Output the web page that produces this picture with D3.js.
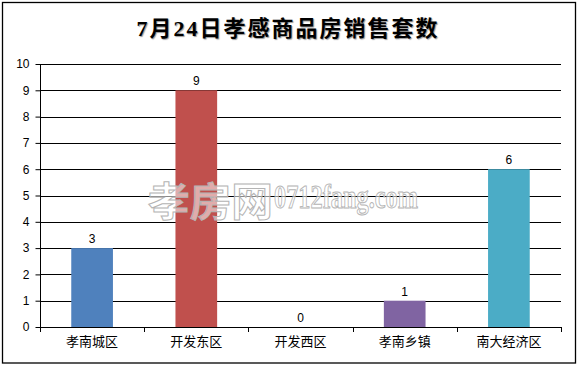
<!DOCTYPE html>
<html lang="zh">
<head>
    <meta charset="UTF-8">
    <title>7月24日孝感商品房销售套数</title>
    <script src="https://d3js.org/d3.v7.min.js"></script>
    <style>
        body { margin: 0; background: #fff; }
    </style>
</head>
<body>
    <svg width="578" height="365"></svg>

    <script>
        // chart data
        const categories = ["孝南城区", "开发东区", "开发西区", "孝南乡镇", "南大经济区"];
        const sales = [3, 9, 0, 1, 6];
        const barColors = ["#4F81BD", "#C0504D", "#9BBB59", "#8064A2", "#4BACC6"];
        const yTicks = [0, 1, 2, 3, 4, 5, 6, 7, 8, 9, 10];
        const chartTitle = "7月24日孝感商品房销售套数";

        const width = 578;
        const height = 365;
        const margin = {top: 64, right: 17, bottom: 38, left: 40};

        const cjk = "'Noto Sans CJK SC', sans-serif";

        const svg = d3.select("svg");

        // outer frame
        svg.append("rect")
            .attr("x", 2.5)
            .attr("y", 2.5)
            .attr("width", 573)
            .attr("height", 360.5)
            .attr("fill", "#fff")
            .attr("stroke", "#000")
            .attr("stroke-width", 1.3);

        const x = d3.scaleBand()
            .domain(categories)
            .range([margin.left, width - margin.right]);

        const y = d3.scaleLinear()
            .domain([0, 10])
            .range([height - margin.bottom, margin.top]);

        // horizontal grid lines
        svg.append("g")
            .selectAll("line")
            .data(yTicks)
            .join("line")
            .attr("x1", margin.left)
            .attr("x2", width - margin.right)
            .attr("y1", d => Math.round(y(d)) + 0.5)
            .attr("y2", d => Math.round(y(d)) + 0.5)
            .attr("stroke", "#000")
            .attr("stroke-width", 1);

        // bars
        const barW = x.bandwidth() * 0.4;
        svg.append("g")
            .selectAll("rect")
            .data(categories)
            .join("rect")
            .attr("x", (d, i) => x(d) + (x.bandwidth() - barW) / 2)
            .attr("y", (d, i) => y(sales[i]))
            .attr("width", barW)
            .attr("height", (d, i) => y(0) - y(sales[i]))
            .attr("fill", (d, i) => barColors[i]);

        // value labels
        svg.append("g")
            .selectAll("text")
            .data(categories)
            .join("text")
            .attr("x", d => x(d) + x.bandwidth() / 2)
            .attr("y", (d, i) => y(sales[i]) - 5)
            .attr("text-anchor", "middle")
            .style("font-family", "'Liberation Sans', Arial, sans-serif")
            .style("font-size", "12px")
            .text((d, i) => sales[i]);

        // y axis
        const yAxis = svg.append("g")
            .attr("transform", `translate(${margin.left + 0.5},0)`)
            .call(d3.axisLeft(y).tickValues(yTicks).tickSize(5).tickPadding(6).tickFormat(d3.format("d")));
        yAxis.selectAll("text")
            .style("font-family", "'Liberation Sans', Arial, sans-serif")
            .style("font-size", "12px")
            .attr("fill", "#000");
        yAxis.select(".domain").attr("d", `M0,${y(10)}V${y(0)}`);

        // x axis
        const xAxis = svg.append("g")
            .attr("transform", `translate(0,${Math.round(y(0)) + 0.5})`)
            .call(d3.axisBottom(x).tickSize(0).tickPadding(9));
        xAxis.select(".domain").attr("d", `M${margin.left},0H${width - margin.right}`);
        xAxis.selectAll("text")
            .style("font-family", cjk)
            .style("font-size", "13px")
            .attr("fill", "#000");

        // category separator ticks
        svg.append("g")
            .selectAll("line")
            .data(categories.concat(["end"]))
            .join("line")
            .attr("x1", (d, i) => Math.round(i < categories.length ? x(d) : x.range()[1]) + 0.5)
            .attr("x2", (d, i) => Math.round(i < categories.length ? x(d) : x.range()[1]) + 0.5)
            .attr("y1", y(0))
            .attr("y2", y(0) + 5)
            .attr("stroke", "#000");

        // watermark
        const wm = svg.append("g")
            .attr("fill", "#fff")
            .attr("fill-opacity", 0.55)
            .attr("stroke", "#b4b4b4")
            .attr("stroke-width", 1);
        wm.append("text")
            .attr("x", 148)
            .attr("y", 216)
            .attr("textLength", 125)
            .attr("lengthAdjust", "spacingAndGlyphs")
            .style("font-family", cjk)
            .style("font-size", "40px")
            .style("font-weight", "bold")
            .text("孝房网");
        wm.append("text")
            .attr("x", 274)
            .attr("y", 208)
            .attr("textLength", 144)
            .attr("lengthAdjust", "spacingAndGlyphs")
            .style("font-family", "'Liberation Serif', serif")
            .style("font-size", "33px")
            .style("font-weight", "bold")
            .text("0712fang.com");

        // title
        svg.append("text")
            .attr("x", 288)
            .attr("y", 36)
            .attr("text-anchor", "middle")
            .style("font-family", "'Liberation Serif', " + cjk)
            .style("font-size", "22px")
            .style("font-weight", "bold")
            .style("letter-spacing", "2px")
            .style("text-shadow", "1px 1px 1px #999")
            .text(chartTitle);
    </script>
</body>
</html>
